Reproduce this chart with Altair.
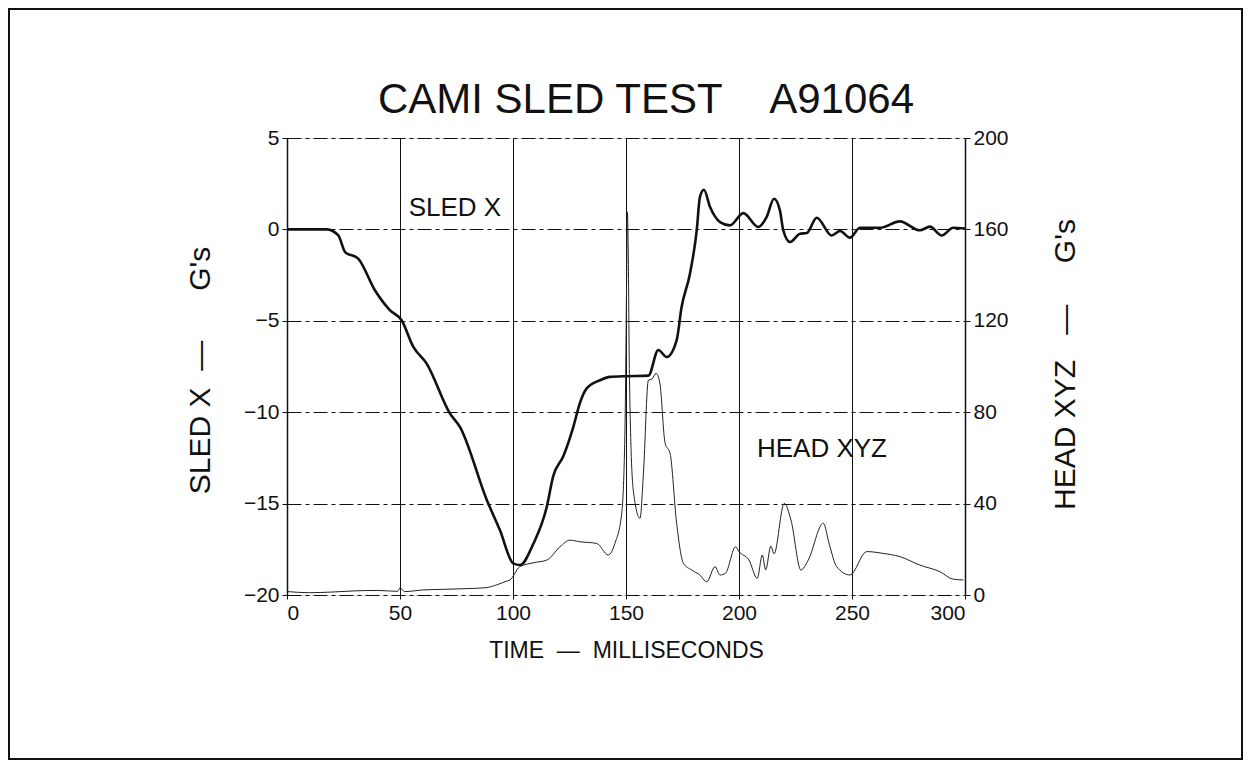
import altair as alt
import pandas as pd

# SLED X (G's) vs time (ms)
sled_t = [0, 10, 17.6, 22.7, 25.7, 31.5, 38.9, 45.6, 50.7, 55.9, 61.8, 72.1, 76.5, 88.4, 94.2,
          100.1, 103.1, 109, 114.9, 117.8, 122.3, 126.7, 129.6, 132.6, 138.5, 142.9, 150.3,
          159.9, 164.3, 168, 172.4, 174.6, 178.3, 181.3, 182.7, 184.5, 187.2, 191.6, 196,
          201.9, 208.5, 212.2, 215.5, 218.1, 219.6, 222.6, 227, 230, 234.4, 241, 244.7,
          249.1, 253.5, 262.4, 271.2, 280, 284.5, 289.7, 294.8, 300]
sled_x = [0, 0, 0, -0.33, -1.24, -1.6, -3.33, -4.43, -4.97, -6.43, -7.34, -10.07, -10.8, -14.8,
          -16.45, -18.27, -18.36, -17.2, -15.2, -13.5, -12.4, -10.8, -9.5, -8.7, -8.25, -8.07,
          -8.03, -8.0, -6.6, -6.98, -6.07, -4.25, -2.42, -0.05, 1.77, 2.17, 1.22, 0.4, 0.22,
          0.89, 0.13, 0.67, 1.68, 1.04, -0.05, -0.69, -0.24, -0.2, 0.64, -0.33, -0.09,
          -0.45, 0.09, 0.09, 0.44, -0.05, 0.15, -0.33, 0.09, 0.05]

# HEAD XYZ (G's) vs time (ms)
head_t = [0, 10, 20, 30, 40, 49, 50, 52, 60, 70, 80, 88, 93, 97, 98.7, 103, 109, 115, 120.8,
          125.2, 129.6, 137, 142.2, 145.1, 148.1, 149.5, 150.3, 150.6, 151, 151.5, 153.2,
          156.2, 157.7, 159.9, 161.5, 163.3, 165, 167.3, 169.5, 172.4, 175.4, 179.1, 182.7,
          185.7, 189.4, 191.6, 194, 198.5, 200, 204.4, 208.1, 210.3, 211.8, 214.1, 215.5,
          220, 223, 227.4, 230.5, 237.3, 240, 243.2, 249.1, 256.5, 263.8, 271.2, 280,
          288.9, 294.8, 299.3]
head_xyz = [1.5, 1.0, 1.3, 1.8, 2.0, 1.6, 3.2, 1.5, 2.2, 2.5, 2.8, 3.2, 4.5, 6.0, 6.6, 12.4,
            14.1, 15.3, 21.1, 24.0, 23.3, 22.6, 17.5, 22.6, 35.7, 70, 140, 167.7, 150, 97,
            46, 33.6, 53, 94, 94.5, 97, 92.6, 66.4, 62, 31.4, 13.9, 10.9, 8.75, 5.8, 12.4,
            8.75, 9.5, 21.1, 19, 15.3, 7.3, 17.5, 11, 21.4, 18, 40.1, 32.8, 10.9, 15,
            31.4, 22, 12.4, 8.75, 19, 18.2, 16.8, 13.1, 10.2, 6.9, 6.6]

labels = ["SLED X", "HEAD XYZ"]
label_t = [74.3, 236.7]
label_v = [1.15, -12.0]

NB = "\u00a0"
title_text = ["CAMI SLED TEST" + NB * 4 + "A91064"]
x_title = "TIME" + NB * 2 + "—" + NB * 2 + "MILLISECONDS"
left_title = "SLED" + NB + "X" + NB * 2 + "—" + NB * 6 + "G's"
right_title = "HEAD" + NB + "XYZ" + NB * 3 + "—" + NB * 5 + "G's"

FONT = "Liberation Sans"
INK = "#111"

sled_df = pd.DataFrame({"t": sled_t, "v": sled_x})
head_df = pd.DataFrame({"t": head_t, "h": head_xyz})
lab_df = pd.DataFrame({"t": label_t, "v": label_v, "label": labels})
title_df = pd.DataFrame({"title": title_text})

x_enc = alt.X("t:Q", scale=alt.Scale(domain=[0, 300], nice=False),
              axis=alt.Axis(values=[0, 50, 100, 150, 200, 250, 300], title=x_title,
                            grid=True, gridColor=INK, gridWidth=1, domain=False,
                            ticks=True, tickSize=4, tickColor=INK, labelFontSize=21,
                            labelFont=FONT, titleFont=FONT, titleFontSize=23, titleFontWeight="normal",
                            labelColor=INK, titleColor=INK, labelPadding=3, titlePadding=16))

left = alt.Chart(sled_df).mark_line(color=INK, strokeWidth=2.6, interpolate="monotone").encode(
    x=x_enc,
    y=alt.Y("v:Q", scale=alt.Scale(domain=[-20, 5], nice=False),
            axis=alt.Axis(orient="left", values=[-20, -15, -10, -5, 0, 5], title=left_title,
                          grid=True, gridColor=INK, gridWidth=1, gridDash=[14, 4, 4, 4],
                          domainColor=INK, domainWidth=1.5, tickColor=INK, tickSize=5,
                          labelFontSize=21, labelFont=FONT, titleFont=FONT, titleFontSize=30,
                          titleFontWeight="normal", labelColor=INK, titleColor=INK,
                          labelPadding=3, titleX=-87, titleY=232, titleAngle=270,
                          titleAlign="center", titleBaseline="middle"))
)

text = alt.Chart(lab_df).mark_text(font=FONT, fontSize=26, color=INK).encode(
    x="t:Q", y="v:Q", text="label:N")

right = alt.Chart(head_df).mark_line(color="#222", strokeWidth=1, interpolate="monotone").encode(
    x="t:Q",
    y=alt.Y("h:Q", scale=alt.Scale(domain=[0, 200], nice=False),
            axis=alt.Axis(orient="right", values=[0, 40, 80, 120, 160, 200], title=right_title,
                          grid=False, domainColor=INK, domainWidth=1.5, tickColor=INK, tickSize=5,
                          labelFontSize=21, labelFont=FONT, titleFont=FONT, titleFontSize=30,
                          titleFontWeight="normal", labelColor=INK, titleColor=INK,
                          labelPadding=3, titleX=100, titleY=226, titleAngle=270,
                          titleAlign="center", titleBaseline="middle"))
)

title = alt.Chart(title_df).mark_text(
    font=FONT, fontSize=42, color=INK, clip=False, baseline="alphabetic"
).encode(x=alt.value(359), y=alt.value(-25), text="title:N")

frame = alt.Chart(pd.DataFrame({"a": [0]})).mark_rect(
    filled=False, stroke=INK, strokeWidth=2, clip=False
).encode(x=alt.value(-278), x2=alt.value(955), y=alt.value(-129), y2=alt.value(621))

chart = alt.layer(left + text, right, title, frame).resolve_scale(y="independent").properties(
    width=678, height=457,
    padding={"left": 279, "top": 130, "right": 278, "bottom": 165},
    autosize=alt.AutoSizeParams(type="none"),
).configure_view(stroke=None).configure(background="white")

chart.save("out.html", embed_options={"renderer": "svg", "actions": False})
